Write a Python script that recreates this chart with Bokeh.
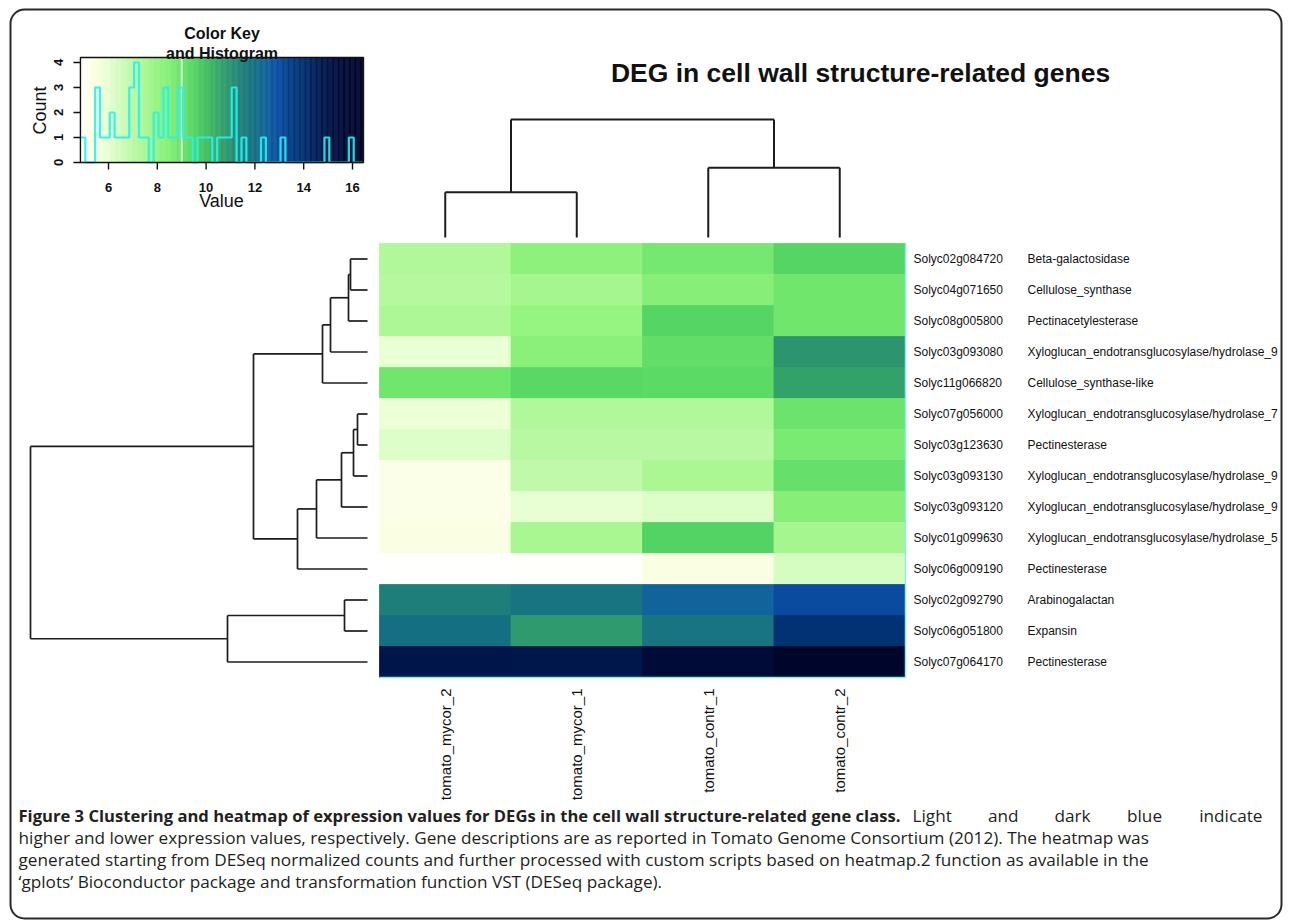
import math
from bokeh.plotting import figure
from bokeh.models import Range1d, LinearColorMapper, ColumnDataSource, BoxAnnotation
from bokeh.core.properties import value
from bokeh.embed import file_html
from bokeh.resources import INLINE

# ---------------- data ----------------
col_labels = ["tomato_mycor_2", "tomato_mycor_1", "tomato_contr_1", "tomato_contr_2"]
row_ids = ["Solyc02g084720", "Solyc04g071650", "Solyc08g005800", "Solyc03g093080",
           "Solyc11g066820", "Solyc07g056000", "Solyc03g123630", "Solyc03g093130",
           "Solyc03g093120", "Solyc01g099630", "Solyc06g009190", "Solyc02g092790",
           "Solyc06g051800", "Solyc07g064170"]
row_desc = ["Beta-galactosidase", "Cellulose_synthase", "Pectinacetylesterase",
            "Xyloglucan_endotransglucosylase/hydrolase_9", "Cellulose_synthase-like",
            "Xyloglucan_endotransglucosylase/hydrolase_7", "Pectinesterase",
            "Xyloglucan_endotransglucosylase/hydrolase_9",
            "Xyloglucan_endotransglucosylase/hydrolase_9",
            "Xyloglucan_endotransglucosylase/hydrolase_5", "Pectinesterase",
            "Arabinogalactan", "Expansin", "Pectinesterase"]
mycor_2 = [7.3, 7.2, 7.4, 5.9, 8.9, 5.8, 6.2, 5.3, 5.3, 5.4, 4.85, 11.5, 12.0, 14.9]
mycor_1 = [8.2, 7.6, 8.0, 8.3, 9.4, 7.3, 7.1, 6.9, 5.95, 7.55, 4.9, 11.85, 10.8, 14.85]
contr_1 = [8.8, 8.4, 9.5, 9.2, 9.35, 7.3, 7.1, 7.5, 6.2, 9.55, 5.4, 12.4, 11.85, 15.6]
contr_2 = [9.5, 8.9, 8.9, 10.9, 10.6, 9.0, 8.7, 9.1, 8.4, 7.6, 6.4, 13.0, 13.9, 16.3]

# row dendrogram (R style merge: negative = leaf in display order, positive = earlier merge)
row_merge = [(-1, -2), (1, -3), (2, -4), (3, -5), (-6, -7), (5, -8), (6, -9), (7, -10),
             (8, -11), (4, 9), (-12, -13), (11, -14), (10, 12)]
row_height = [0.68, 0.76, 1.48, 1.80, 0.40, 0.56, 1.04, 2.04, 2.80, 4.56, 0.92, 5.60, 13.48]
# column dendrogram
col_merge = [(-1, -2), (-3, -4), (1, 2)]
col_height = [1.81, 2.79, 4.72]

# colour key histogram
key_min, key_max = 4.85, 16.45
hist_counts = [1, 0, 0, 3, 1, 1, 2, 1, 1, 1, 3, 4, 1, 1, 0, 2, 1, 3, 1, 1,
               3, 1, 1, 0, 1, 1, 1, 0, 1, 1, 1, 3, 0, 1, 0, 0, 0, 1, 0, 0,
               0, 1, 0, 0, 0, 0, 0, 0, 0, 0, 1, 0, 0, 0, 0, 1, 0, 0]
key_xticks = [6, 8, 10, 12, 14, 16]
key_yticks = [0, 1, 2, 3, 4]
key_vline = 9.0

title_text = "DEG in cell wall structure-related genes"
caption_bold = ("Figure 3 Clustering and heatmap of expression values for DEGs in the cell "
                "wall structure-related gene class.")
caption_lines = [
    "Light and dark blue indicate",
    "higher and lower expression values, respectively. Gene descriptions are as reported in "
    "Tomato Genome Consortium (2012). The heatmap was",
    "generated starting from DESeq normalized counts and further processed with custom scripts "
    "based on heatmap.2 function as available in the",
    "\u2018gplots\u2019 Bioconductor package and transformation function VST (DESeq package).",
]

# ---------------- palette (style) ----------------
pal_v = [4.85, 5.2, 5.6, 6.0, 6.5, 7.0, 7.5, 8.0, 8.5, 9.0, 9.5, 10.0, 10.5, 11.0, 11.5,
         12.0, 12.5, 13.0, 13.5, 14.0, 14.5, 15.0, 15.5, 16.45]
pal_c = ["#FFFFFF", "#FFFFEC", "#F6FFDC", "#E6FFD2", "#D2FCBE", "#BDF9A6", "#ABF794",
         "#97F481", "#84EE76", "#6CE46C", "#56D664", "#44C062", "#36A868", "#2A9270",
         "#1E7F7A", "#157082", "#0F62A0", "#0A4CA0", "#053C84", "#023070", "#001E58",
         "#001448", "#000C3A", "#000528"]


def _hex(c):
    return tuple(int(c[i:i + 2], 16) for i in (1, 3, 5))


def interp_color(v):
    for i in range(len(pal_v) - 1):
        if v <= pal_v[i + 1]:
            t = (v - pal_v[i]) / (pal_v[i + 1] - pal_v[i])
            a, b = _hex(pal_c[i]), _hex(pal_c[i + 1])
            return "#%02x%02x%02x" % tuple(int(round(a[k] + (b[k] - a[k]) * t)) for k in range(3))
    return pal_c[-1]


NPAL = 232
palette = [interp_color(key_min + (i + 0.5) * (key_max - key_min) / NPAL) for i in range(NPAL)]
mapper = LinearColorMapper(palette=palette, low=key_min, high=key_max)

# ---------------- layout (page pixels; Bokeh's page has no body margin) ----------------
W, H = 1288, 920
PX0, PY0 = 0, 0


def xr(va, pa, vb, pb):
    s = (vb - va) / (pb - pa)
    return Range1d(start=va + (PX0 - pa) * s, end=va + (PX0 + W - pa) * s)


def yr(va, pa, vb, pb):
    s = (vb - va) / (pb - pa)
    return Range1d(start=va + (PY0 + H - pa) * s, end=va + (PY0 - pa) * s)


HM_L, HM_R, HM_T, HM_B = 379, 905, 243, 677
p = figure(width=W, height=H, x_range=Range1d(PX0, PX0 + W), y_range=Range1d(PY0 + H, PY0),
           output_backend="svg", toolbar_location=None, min_border=0,
           x_axis_location=None, y_axis_location=None, outline_line_color=None,
           background_fill_color="white", border_fill_color="white")
p.grid.visible = False

ncol, nrow = len(col_labels), len(row_ids)
p.extra_x_ranges = {
    "hx": xr(-0.5, HM_L, ncol - 0.5, HM_R),
    "dx": xr(0.0, 367, row_height[-1], 30),
    "kx": xr(6, 108, 16, 352),
}
p.extra_y_ranges = {
    "hy": yr(-0.5, HM_T, nrow - 0.5, HM_B),
    "dy": yr(0.0, 237, col_height[-1], 119),
    "ky": yr(0, 162, 4, 62),
}

# ---------------- heatmap ----------------
cols = [mycor_2, mycor_1, contr_1, contr_2]
hx, hy, hv = [], [], []
for ci, c in enumerate(cols):
    for ri, v in enumerate(c):
        hx.append(ci); hy.append(ri); hv.append(v)
p.rect(x="x", y="y", width=1, height=1, source=ColumnDataSource(dict(x=hx, y=hy, v=hv)),
       fill_color={"field": "v", "transform": mapper},
       line_color={"field": "v", "transform": mapper}, line_width=0.8,
       x_range_name="hx", y_range_name="hy")
p.line(x=[ncol - 0.5, ncol - 0.5, -0.5], y=[-0.5, nrow - 0.5, nrow - 0.5],
       line_color="#8FE9F0", line_width=1.5, x_range_name="hx", y_range_name="hy")

# row labels
p.text(x=[913] * nrow, y=list(range(nrow)), text=row_ids, y_range_name="hy",
       text_font=value("Liberation Sans"), text_font_size=value("12px"),
       text_baseline="middle", text_align="left", text_color="#111111")
p.text(x=[1027] * nrow, y=list(range(nrow)), text=row_desc, y_range_name="hy",
       text_font=value("Liberation Sans"), text_font_size=value("12px"),
       text_baseline="middle", text_align="left", text_color="#111111")
# column labels
p.text(x=list(range(ncol)), y=[688] * ncol, text=col_labels, x_range_name="hx",
       angle=math.pi / 2, text_font=value("Liberation Sans"), text_font_size=value("15px"),
       text_baseline="middle", text_align="right", text_color="#111111")


# ---------------- dendrograms ----------------
def dendro_segments(merge, heights):
    pos, hts = {}, {}
    segs = []

    def info(k):
        if k < 0:
            return (-k - 1), 0.0
        return pos[k], hts[k]

    for j, (a, b) in enumerate(merge, start=1):
        pa, ha = info(a)
        pb, hb = info(b)
        h = heights[j - 1]
        segs.append((h, pa, h, pb))
        segs.append((ha, pa, h, pa))
        segs.append((hb, pb, h, pb))
        pos[j] = (pa + pb) / 2.0
        hts[j] = h
    return segs


rs = dendro_segments(row_merge, row_height)
p.segment(x0=[s[0] for s in rs], y0=[s[1] for s in rs], x1=[s[2] for s in rs],
          y1=[s[3] for s in rs], line_color="#1c1c1c", line_width=1.7,
          x_range_name="dx", y_range_name="hy")
cs = dendro_segments(col_merge, col_height)
p.segment(x0=[s[1] for s in cs], y0=[s[0] for s in cs], x1=[s[3] for s in cs],
          y1=[s[2] for s in cs], line_color="#1c1c1c", line_width=2,
          x_range_name="hx", y_range_name="dy")

# ---------------- colour key ----------------
kw = (key_max - key_min) / NPAL
p.quad(left=[key_min + i * kw for i in range(NPAL)], right=[key_min + (i + 1) * kw for i in range(NPAL)],
       bottom=[0] * NPAL, top=[4.2] * NPAL, fill_color=palette, line_color=palette, line_width=0.6,
       x_range_name="kx", y_range_name="ky")
p.segment(x0=[key_vline], y0=[0], x1=[key_vline], y1=[4.2], line_color="#EFFFF6",
          line_width=1.6, line_alpha=0.9, x_range_name="kx", y_range_name="ky")
nb = len(hist_counts)
bw = (key_max - key_min) / nb
edges = [key_min + i * bw for i in range(nb + 1)]
p.step(x=edges, y=hist_counts + [hist_counts[-1]], mode="after", line_color="#22F2F2",
       line_width=2.2, line_alpha=0.9, x_range_name="kx", y_range_name="ky")
p.quad(left=[key_min], right=[key_max], bottom=[0], top=[4.2], fill_color=None,
       line_color="#111111", line_width=1.4, x_range_name="kx", y_range_name="ky")
# axes of the key
tick_dx = 7 / 24.4
tick_dy = 7 / 25.0
p.segment(x0=[key_min] * len(key_yticks), y0=key_yticks, x1=[key_min - tick_dx] * len(key_yticks),
          y1=key_yticks, line_color="#111111", line_width=1.4, x_range_name="kx", y_range_name="ky")
p.segment(x0=key_xticks, y0=[0] * len(key_xticks), x1=key_xticks, y1=[-tick_dy] * len(key_xticks),
          line_color="#111111", line_width=1.4, x_range_name="kx", y_range_name="ky")
p.text(x=[57.5] * len(key_yticks), y=key_yticks, text=[str(t) for t in key_yticks],
       angle=math.pi / 2, y_range_name="ky", text_font=value("Liberation Sans"),
       text_font_size=value("13px"), text_font_style="bold", text_align="center",
       text_baseline="middle", text_color="#111111")
p.text(x=key_xticks, y=[187] * len(key_xticks), text=[str(t) for t in key_xticks],
       x_range_name="kx", text_font=value("Liberation Sans"), text_font_size=value("13px"),
       text_font_style="bold", text_align="center", text_baseline="middle", text_color="#111111")
p.text(x=[39], y=[110], text=["Count"], angle=math.pi / 2, text_font=value("Liberation Sans"),
       text_font_size=value("18px"), text_align="center", text_baseline="middle",
       text_color="#111111")
p.text(x=[221], y=[200], text=["Value"], text_font=value("Liberation Sans"),
       text_font_size=value("18px"), text_align="center", text_baseline="middle",
       text_color="#111111")
p.text(x=[221.5, 221.5], y=[33, 53], text=["Color Key", "and Histogram"],
       text_font=value("Liberation Sans"), text_font_size=value("16px"), text_font_style="bold",
       text_align="center", text_baseline="middle", text_color="#111111")

# ---------------- title ----------------
p.text(x=[860], y=[72], text=[title_text], text_font=value("Liberation Sans"),
       text_font_size=value("26.5px"), text_font_style="bold", text_align="center",
       text_baseline="middle", text_color="#111111")

# ---------------- caption ----------------
cap_y = [815, 837, 859, 881]
CAP_FONT = value("Open Sans")
p.text(x=[18], y=[cap_y[0]], text=[caption_bold], text_font=CAP_FONT,
       text_font_size=value("16.6px"), text_font_style="bold", text_align="left",
       text_baseline="middle", text_color="#231f20")
# first line continues (justified) up to the right margin
words = caption_lines[0].split(" ")
w_est = [40, 31, 37, 36, 64]  # approximate word widths, used for spreading
start, stop = 912, 1262
gap = (stop - start - sum(w_est)) / (len(words) - 1)
wx, acc = [], start
for w in w_est:
    wx.append(acc)
    acc += w + gap
p.text(x=wx[:-1], y=[cap_y[0]] * (len(words) - 1), text=words[:-1], text_font=CAP_FONT,
       text_font_size=value("17.2px"), text_align="left", text_baseline="middle",
       text_color="#231f20")
p.text(x=[stop], y=[cap_y[0]], text=words[-1:], text_font=CAP_FONT,
       text_font_size=value("17.2px"), text_align="right", text_baseline="middle",
       text_color="#231f20")
p.text(x=[18] * 3, y=cap_y[1:], text=caption_lines[1:], text_font=CAP_FONT,
       text_font_size=value("17.2px"), text_align="left", text_baseline="middle",
       text_color="#231f20")

# ---------------- outer rounded frame ----------------
frame = BoxAnnotation(left=10, right=1281, top=9, bottom=918, fill_color=None, fill_alpha=0,
                      line_color="#2a2a2a", line_alpha=1.0, line_width=2)
try:
    frame.border_radius = 14
except Exception:
    pass
p.add_layout(frame)

open("out.html", "w").write(file_html(p, INLINE))
